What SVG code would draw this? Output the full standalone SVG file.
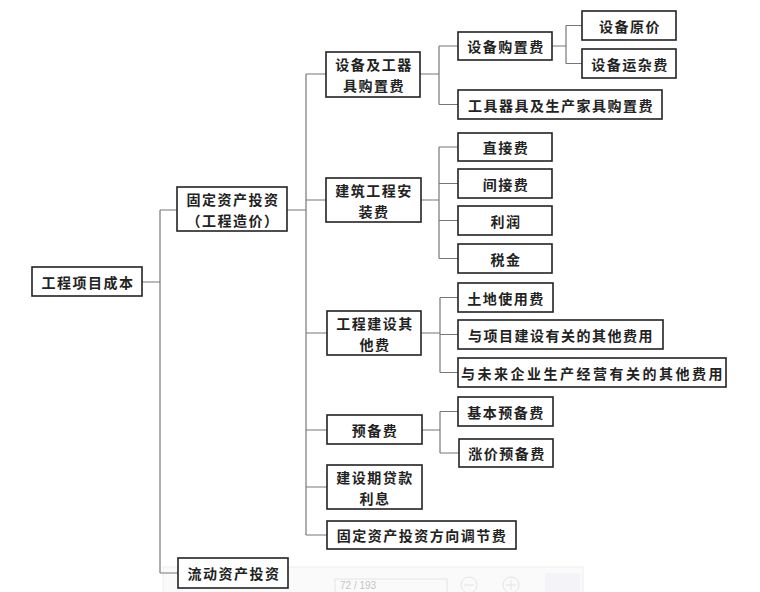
<svg xmlns="http://www.w3.org/2000/svg" width="760" height="592" viewBox="0 0 760 592">
<style>
.box{fill:#fff;stroke:#222;stroke-width:1.6}
.t{font-family:"Noto Sans CJK SC","Noto Sans",sans-serif;font-size:14px;font-weight:700;fill:#222;text-anchor:middle;dominant-baseline:central;letter-spacing:1.5px}
.c{fill:none;stroke:#777;stroke-width:1.2}
.tb{fill:none;stroke:#e4e4e4;stroke-width:1}
</style>
<rect width="760" height="592" fill="#fff"/>
<g id="toolbar">
<rect x="163" y="567" width="420" height="26" fill="#fafafa" stroke="#eeeeee"/>
<rect x="335" y="579" width="112" height="16" class="tb"/>
<text x="340" y="585" font-family="Liberation Sans, sans-serif" font-size="10" fill="#c4c4c4" dominant-baseline="central">72 / 193</text>
<circle cx="469" cy="585" r="8" class="tb"/>
<line x1="464" y1="585" x2="474" y2="585" class="tb"/>
<circle cx="511" cy="585" r="8" class="tb"/>
<line x1="506" y1="585" x2="516" y2="585" class="tb"/>
<line x1="511" y1="580" x2="511" y2="590" class="tb"/>
<rect x="545" y="573" width="35" height="19" fill="#f3f3f8"/>
</g>
<g id="connectors">
<path class="c" d="M142 282H160M160 210V573M160 210H177M160 573H178"/>
<path class="c" d="M287 210H306M306 74V535M306 74H326M306 200H326M306 333H327M306 430H327M306 487H327M306 535H327"/>
<path class="c" d="M420 74H439M439 46V104.5M439 46H458M439 104.5H458"/>
<path class="c" d="M552 46H566M566 25.5V63.5M566 25.5H582M566 63.5H582"/>
<path class="c" d="M421 200H439M439 147V258.5M439 147H458M439 183.5H458M439 220.5H458M439 258.5H458"/>
<path class="c" d="M421 333H440M440 297.5V372.5M440 297.5H458M440 334.5H458M440 372.5H458"/>
<path class="c" d="M422 430H440M440 411.5V453M440 411.5H458M440 453H459"/>
</g>
<g id="n1"><rect class="box" x="32" y="267" width="110" height="29"/><text class="t" x="88" y="281.5">工程项目成本</text></g>
<g id="n2"><rect class="box" x="177" y="187" width="110" height="44"/><text class="t" x="233" y="199">固定资产投资</text><text class="t" x="233" y="220">（工程造价）</text></g>
<g id="n3"><rect class="box" x="178" y="558" width="110" height="30"/><text class="t" x="234" y="573">流动资产投资</text></g>
<g id="a1"><rect class="box" x="326" y="52" width="94" height="45"/><text class="t" x="374" y="64">设备及工器</text><text class="t" x="374" y="85">具购置费</text></g>
<g id="a2"><rect class="box" x="326" y="178" width="95" height="44"/><text class="t" x="374" y="190">建筑工程安</text><text class="t" x="374" y="211">装费</text></g>
<g id="a3"><rect class="box" x="327" y="311" width="94" height="44"/><text class="t" x="375" y="323">工程建设其</text><text class="t" x="375" y="344">他费</text></g>
<g id="a4"><rect class="box" x="327" y="415" width="95" height="29"/><text class="t" x="375" y="429.5">预备费</text></g>
<g id="a5"><rect class="box" x="327" y="465" width="95" height="44"/><text class="t" x="375" y="477">建设期贷款</text><text class="t" x="375" y="498">利息</text></g>
<g id="a6"><rect class="box" x="327" y="521" width="189" height="28"/><text class="t" x="422" y="535">固定资产投资方向调节费</text></g>
<g id="b1"><rect class="box" x="458" y="32" width="94" height="28"/><text class="t" x="506" y="46">设备购置费</text></g>
<g id="c1"><rect class="box" x="582" y="11" width="94" height="29"/><text class="t" x="630" y="25.5">设备原价</text></g>
<g id="c2"><rect class="box" x="582" y="49" width="94" height="29"/><text class="t" x="630" y="63.5">设备运杂费</text></g>
<g id="b2"><rect class="box" x="458" y="90" width="204" height="29"/><text class="t" x="561" y="104.5">工具器具及生产家具购置费</text></g>
<g id="b3"><rect class="box" x="458" y="133" width="94" height="28"/><text class="t" x="506" y="147">直接费</text></g>
<g id="b4"><rect class="box" x="458" y="169" width="94" height="29"/><text class="t" x="506" y="183.5">间接费</text></g>
<g id="b5"><rect class="box" x="458" y="206" width="94" height="29"/><text class="t" x="506" y="220.5">利润</text></g>
<g id="b6"><rect class="box" x="458" y="244" width="94" height="29"/><text class="t" x="506" y="258.5">税金</text></g>
<g id="b7"><rect class="box" x="458" y="283" width="95" height="29"/><text class="t" x="506" y="297.5">土地使用费</text></g>
<g id="b8"><rect class="box" x="458" y="320" width="205" height="29"/><text class="t" x="561" y="334.5">与项目建设有关的其他费用</text></g>
<g id="b9"><rect class="box" x="458" y="358" width="268" height="29"/><text class="t" x="593" y="372.5" style="letter-spacing:2.5px">与未来企业生产经营有关的其他费用</text></g>
<g id="b10"><rect class="box" x="458" y="397" width="95" height="29"/><text class="t" x="506" y="411.5">基本预备费</text></g>
<g id="b11"><rect class="box" x="459" y="439" width="94" height="28"/><text class="t" x="507" y="453">涨价预备费</text></g>
</svg>
